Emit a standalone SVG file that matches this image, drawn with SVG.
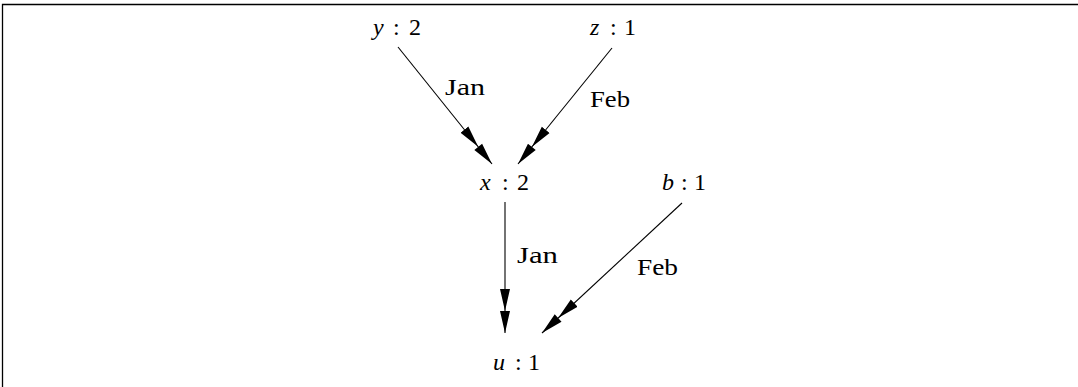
<svg xmlns="http://www.w3.org/2000/svg" width="1078" height="387" viewBox="0 0 1078 387">
<style>
  .edge{stroke:#000;stroke-width:1.1;fill:none}
  .frame{stroke:#000;stroke-width:1.3;fill:none}
</style>
<defs>
  <marker id="dbl" markerUnits="userSpaceOnUse" markerWidth="46" markerHeight="12" viewBox="0 -6 46 12" refX="44" refY="0" orient="auto">
    <path d="M0,-5 L22,0 L0,5 Z M22,-5 L44,0 L22,5 Z" fill="#000"/>
  </marker>
</defs>
<rect width="1078" height="387" fill="#fff"/>
<path class="frame" d="M2.5,387 V4.5 H1078"/>
<g font-family="Liberation Serif, DejaVu Serif, serif" font-size="24" fill="#000">
<g id="connectors">
  <line class="edge" x1="398" y1="47" x2="492" y2="164" marker-end="url(#dbl)"/>
  <line class="edge" x1="612" y1="48" x2="518" y2="164" marker-end="url(#dbl)"/>
  <line class="edge" x1="505" y1="202" x2="505" y2="333" marker-end="url(#dbl)"/>
  <line class="edge" x1="682" y1="203" x2="542" y2="333" marker-end="url(#dbl)"/>
  <text x="445" y="95" textLength="40" lengthAdjust="spacingAndGlyphs">Jan</text>
  <text x="590" y="107" textLength="40" lengthAdjust="spacingAndGlyphs">Feb</text>
  <text x="517" y="263" textLength="41" lengthAdjust="spacingAndGlyphs">Jan</text>
  <text x="637" y="275" textLength="41" lengthAdjust="spacingAndGlyphs">Feb</text>
</g>
<g id="node-y">
  <text y="35"><tspan font-style="italic" x="373">y</tspan><tspan x="393">:</tspan><tspan x="409">2</tspan></text>
</g>
<g id="node-z">
  <text y="35"><tspan font-style="italic" x="590">z</tspan><tspan x="610">:</tspan><tspan x="624">1</tspan></text>
</g>
<g id="node-x">
  <text y="190"><tspan font-style="italic" x="480">x</tspan><tspan x="502">:</tspan><tspan x="517">2</tspan></text>
</g>
<g id="node-b">
  <text y="190"><tspan font-style="italic" x="662">b</tspan><tspan x="681">:</tspan><tspan x="694">1</tspan></text>
</g>
<g id="node-u">
  <text y="370"><tspan font-style="italic" x="493">u</tspan><tspan x="515">:</tspan><tspan x="528">1</tspan></text>
</g>
</g>
</svg>
